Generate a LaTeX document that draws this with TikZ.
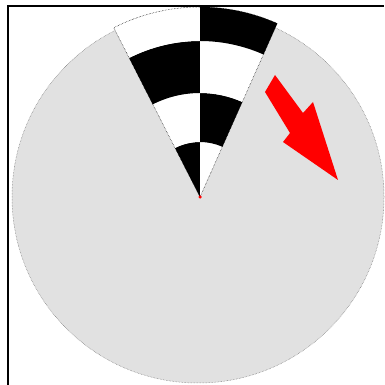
\documentclass[tikz,border=0pt]{standalone}
\usepackage{tikz}
\definecolor{disc}{HTML}{E1E1E1}
\definecolor{rim}{HTML}{6E6E6E}
\definecolor{cred}{HTML}{FF0000}
\tikzset{
  every picture/.style={line width=0.5pt},
  frame/.style={draw=black,line width=2.6pt},
  plate/.style={fill=disc,draw=rim,densely dotted,line width=0.5pt},
  edge/.style={draw=black,densely dotted,line width=0.5pt},
  pointer/.style={fill=cred,draw=none},
  pivot/.style={circle,fill=cred,inner sep=0pt,minimum size=3.5pt},
}

\begin{document}
\begin{tikzpicture}[x=1pt,y=1pt]
  \useasboundingbox (0,0) rectangle (384,385);
  \fill[white] (0,0) rectangle (384,385);
  % disc
  \draw[plate] (198,188) circle[radius=186];
  % checkered sector, bands around the pivot
  \begin{scope}[shift={(200,188)}]
    \foreach \ri/\ro/\cl/\cr in {0/55/black/white,55/104/white/black,104/156/black/white,156/190/white/black}{
      \fill[\cl] (90:\ri) arc[start angle=90,end angle=117,radius=\ri] -- (117:\ro) arc[start angle=117,end angle=90,radius=\ro] -- cycle;
      \fill[\cr] (66:\ri) arc[start angle=66,end angle=90,radius=\ri] -- (90:\ro) arc[start angle=90,end angle=66,radius=\ro] -- cycle;
    }
    \draw[edge] (0,0) -- (117:190) arc[start angle=117,end angle=66,radius=190] -- cycle;
  \end{scope}
  \node[pivot] (c) at (200,188) {};
  % red arrow
  \fill[pointer] (275,310) -- (303,272) -- (313,283) -- (338,205) -- (283,243) -- (290,252) -- (265,293) -- cycle;
  % frame
  \draw[frame] (8,0) -- (8,379) -- (384,379);
\end{tikzpicture}
\end{document}
